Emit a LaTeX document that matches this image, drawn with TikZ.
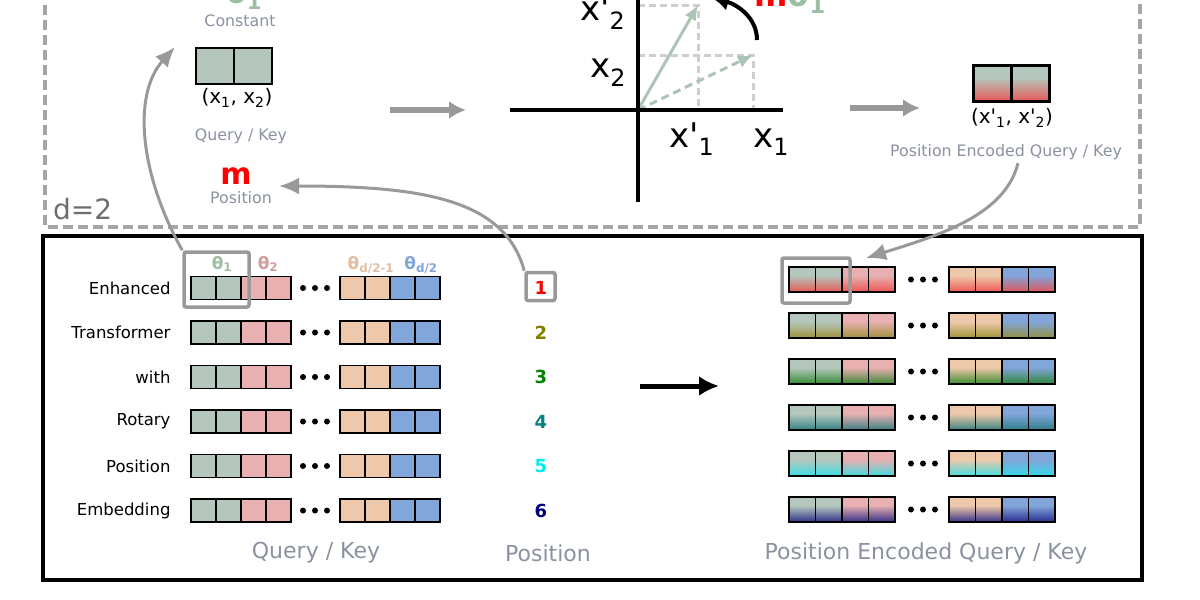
\documentclass[tikz,border=0pt]{standalone}
\usepackage{fontspec}
\setmainfont{DejaVu Sans}
\usetikzlibrary{arrows.meta,positioning}

% colours
\definecolor{qkgreen}{RGB}{181,199,188}
\definecolor{qkpink}{RGB}{232,176,176}
\definecolor{qkpeach}{RGB}{237,200,170}
\definecolor{qkblue}{RGB}{130,165,218}
\definecolor{thetagreen}{RGB}{158,190,163}
\definecolor{vecgreen}{RGB}{172,196,180}
\definecolor{labelgray}{RGB}{138,146,160}
\definecolor{linegray}{RGB}{153,153,153}
\definecolor{dashgray}{RGB}{165,165,165}
\definecolor{guidegray}{RGB}{206,206,206}
\definecolor{dgray}{RGB}{110,110,110}
\definecolor{posolive}{RGB}{128,128,0}
\definecolor{posgreen}{RGB}{0,128,0}
\definecolor{posteal}{RGB}{0,128,128}
\definecolor{poscyan}{RGB}{0,238,238}
\definecolor{posnavy}{RGB}{0,0,128}
\definecolor{pered}{RGB}{238,70,70}
\definecolor{peolive}{RGB}{150,140,40}
\definecolor{pegreen}{RGB}{30,130,30}
\definecolor{peteal}{RGB}{30,120,125}
\definecolor{pecyan}{RGB}{40,225,235}
\definecolor{penavy}{RGB}{25,25,130}
\colorlet{petop}{qkgreen}
\colorlet{pebot}{pered}

% cell shading: flat on top, position colour at the bottom
\pgfdeclareverticalshading[petop,pebot]{pecell}{100bp}{color(0bp)=(pebot); color(20bp)=(pebot);
  color(58bp)=(petop); color(100bp)=(petop)}

\newcommand{\primemark}{\textquotesingle}
\newcommand{\fsz}[1]{\fontsize{#1}{#1}\selectfont}

\begin{document}
\begin{tikzpicture}[x=1pt, y=-1pt,
  graylabel/.style={text=labelgray, font=\fsz{15.8}},
  biglabel/.style={text=labelgray, font=\fsz{22}},
  rowlabel/.style={anchor=east, font=\fsz{16.5}},
  posnum/.style={font=\fsz{18}\bfseries},
  thetalabel/.style={anchor=base, font=\fsz{17}\bfseries},
  axislabel/.style={anchor=base west, inner sep=0pt, font=\fsz{34}},
  qcell/.style={draw=black, line width=2.5pt, minimum width=38pt, minimum height=36pt,
    inner sep=0pt, outer sep=0pt},
  hilite/.style={draw=linegray, line width=3.5pt, rounded corners=2pt},
  grayarrow/.style={color=linegray, line width=3pt, -{Latex[length=20pt, width=17pt]}},
  flatarrow/.style={color=linegray, line width=6pt, -{Latex[length=17pt, width=18pt]}},
  guide/.style={color=guidegray, line width=3pt, dash pattern=on 7pt off 4pt},
  vec/.style={color=vecgreen, line width=3pt, -{Latex[length=15pt, width=13pt]}}
]
  \tikzset{
  qk_row/.pic={
    % left cells
    \foreach \c [count=\i from 0] in {qkgreen,qkgreen,qkpink,qkpink}
      \filldraw[fill=\c, draw=black, line width=1.4pt] (\i*25,-11.5) rectangle ++(25,23);
    % right cells
    \foreach \c [count=\i from 0] in {qkpeach,qkpeach,qkblue,qkblue}
      \filldraw[fill=\c, draw=black, line width=1.4pt] (149+\i*25,-11.5) rectangle ++(25,23);
    % dots
    \foreach \d in {112,124,136}
      \fill (\d,0) circle (3pt);
    \coordinate (-west) at (0,0);
  },
  pics/pe_row/.style={code={
    \colorlet{pebot}{#1}
    % left cells
    \foreach \c [count=\i from 0] in {qkgreen,qkgreen,qkpink,qkpink} {
      \colorlet{petop}{\c}
      \shade[shading=pecell] (\i*26.5,-12.5) rectangle ++(26.5,25);
      \draw[line width=1.4pt] (\i*26.5,-12.5) rectangle ++(26.5,25);
    }
    % right cells
    \foreach \c [count=\i from 0] in {qkpeach,qkpeach,qkblue,qkblue} {
      \colorlet{petop}{\c}
      \shade[shading=pecell] (160+\i*26.5,-12.5) rectangle ++(26.5,25);
      \draw[line width=1.4pt] (160+\i*26.5,-12.5) rectangle ++(26.5,25);
    }
    % dots
    \foreach \d in {122,134,146}
      \fill (\d,0) circle (3pt);
    \coordinate (-west) at (0,0);
  }}
}

  \clip (0,0) rectangle (1200,600);

  % frames
  \draw[color=dashgray, line width=4.5pt, dash pattern=on 10pt off 5pt]
    (45,-10) -- (45,227) -- (1140,227) -- (1140,-10);
  \node[anchor=base west, inner sep=0pt, text=dgray, font=\fsz{28}] (dim) at (53,219) {d=2};
  \draw[line width=3.5pt] (43,236) rectangle (1142,580);

  % query / key, d=2
  \node[anchor=base west, inner sep=0pt, text=thetagreen, font=\fsz{30}\bfseries] (theta_c) at (226,3) {θ\textsubscript{1}};
  \node[graylabel] (const) at (240,21) {Constant};
  \node[qcell, fill=qkgreen] (qa) at (215,66) {};
  \node[qcell, fill=qkgreen, right=0pt of qa] (qb) {};
  \node[font=\fsz{20}] (qk_xy) at (237,98) {(x\textsubscript{1}, x\textsubscript{2})};
  \node[graylabel] (qk_lbl) at (241,136) {Query / Key};
  \node[text=red, font=\fsz{30}\bfseries] (m) at (236,176) {m};
  \node[graylabel] (pos_lbl) at (241,198) {Position};

  % rotation
  \coordinate (origin) at (638,110);
  \coordinate (v_rot) at (698,5);
  \coordinate (v_orig) at (753,55);
  \draw[guide] (origin |- v_orig) -- (v_orig) -- (origin -| v_orig);
  \draw[guide] (origin |- v_rot) -- (v_rot) -- (origin -| v_rot);
  \draw[vec, dash pattern=on 8pt off 5pt] (origin) -- (v_orig);
  \draw[vec] (origin) -- (v_rot);
  \draw[line width=4.5pt] (510,110) -- (783,110);
  \draw[line width=4.5pt] (638,-10) -- (638,202);
  \node[axislabel] (lx2p) at (580,20) {x\primemark\textsubscript{2}};
  \node[axislabel] (lx2) at (590,77) {x\textsubscript{2}};
  \node[axislabel] (lx1p) at (669,147) {x\primemark\textsubscript{1}};
  \node[axislabel] (lx1) at (753,147) {x\textsubscript{1}};
  \coordinate (rot_start) at (757,40);
  \coordinate (rot_end) at (711,-3);
  \draw[line width=4pt, -{Latex[length=18pt, width=17pt]}]
    (rot_start) .. controls (757,18) and (738,5) .. (rot_end);
  \node[anchor=base west, inner sep=0pt, font=\fsz{32}\bfseries] (mtheta) at (754,6)
    {\textcolor{red}{m}\textcolor{thetagreen}{θ\textsubscript{1}}};

  % flat arrows
  \coordinate (a1s) at (390,110);
  \coordinate (a1e) at (466,110);
  \draw[flatarrow] (a1s) -- (a1e);
  \coordinate (a2s) at (850,108);
  \coordinate (a2e) at (920,108);
  \draw[flatarrow] (a2s) -- (a2e);

  % position encoded query / key, d=2
  \colorlet{petop}{qkgreen}
  \colorlet{pebot}{pered}
  \node[qcell, shading=pecell] (pa) at (992.5,83.5) {};
  \node[qcell, shading=pecell, right=0pt of pa] (pb) {};
  \node[font=\fsz{20}] (pe_xy) at (1012,118) {(x\primemark\textsubscript{1}, x\primemark\textsubscript{2})};
  \node[graylabel] (pe_lbl) at (1006,152) {Position Encoded Query / Key};

  % query / key rows
  \foreach \w [count=\r from 0] in {Enhanced,Transformer,with,Rotary,Position,Embedding}
    \node[rowlabel] (lbl\r) at (174,288+44.5*\r) {\w};
  \foreach \r in {0,...,5}
    \pic (qk\r) at (191,288+44.5*\r) {qk_row};
  \node[thetalabel, text=thetagreen] (t1) at (222,269) {θ\textsubscript{1}};
  \node[thetalabel, text=qkpink!90!black] (t2) at (268,269) {θ\textsubscript{2}};
  \node[thetalabel, text=qkpeach!95!black] (t3) at (371,269) {θ\textsubscript{d/2-1}};
  \node[thetalabel, text=qkblue] (t4) at (421,269) {θ\textsubscript{d/2}};
  \node[hilite, minimum width=65pt, minimum height=55pt] (hl_left) at (216.5,279.5) {};

  % positions
  \foreach \n/\c [count=\r from 0] in {1/red,2/posolive,3/posgreen,4/posteal,5/poscyan,6/posnavy}
    \node[posnum, text=\c] (p\n) at (541,288+44.5*\r) {\n};
  \node[hilite, minimum width=29pt, minimum height=28pt] (p1box) at (540.5,286.5) {};

  % big arrow
  \coordinate (b_s) at (640,386);
  \coordinate (b_e) at (719,386);
  \draw[line width=5pt, -{Latex[length=20pt, width=20pt]}] (b_s) -- (b_e);

  % position encoded rows
  \foreach \pc [count=\r from 0] in {pered,peolive,pegreen,peteal,pecyan,penavy}
    \pic (pe\r) at (789,279.5+46*\r) {pe_row=\pc};
  \node[hilite, minimum width=68pt, minimum height=45pt] (hl_right) at (816,280.5) {};

  % panel labels
  \node[biglabel] (qk_bottom) at (316,553) {Query / Key};
  \node[biglabel] (pos_bottom) at (548,553) {Position};
  \node[biglabel] (pe_bottom) at (926,553) {Position Encoded Query / Key};

  % curved connectors
  \coordinate (qk_in) at (175,47);
  \coordinate (m_in) at (279,186);
  \coordinate (pe_in) at (866,258);
  \draw[grayarrow] (hl_left.north west) .. controls (140,175) and (132,95) .. (qk_in);
  \draw[grayarrow] (p1box.north west) .. controls (505,200) and (425,186) .. (m_in);
  \draw[grayarrow] ([xshift=12pt]pe_lbl.south) .. controls (1005,215) and (940,235) .. (pe_in);
\end{tikzpicture}
\end{document}
